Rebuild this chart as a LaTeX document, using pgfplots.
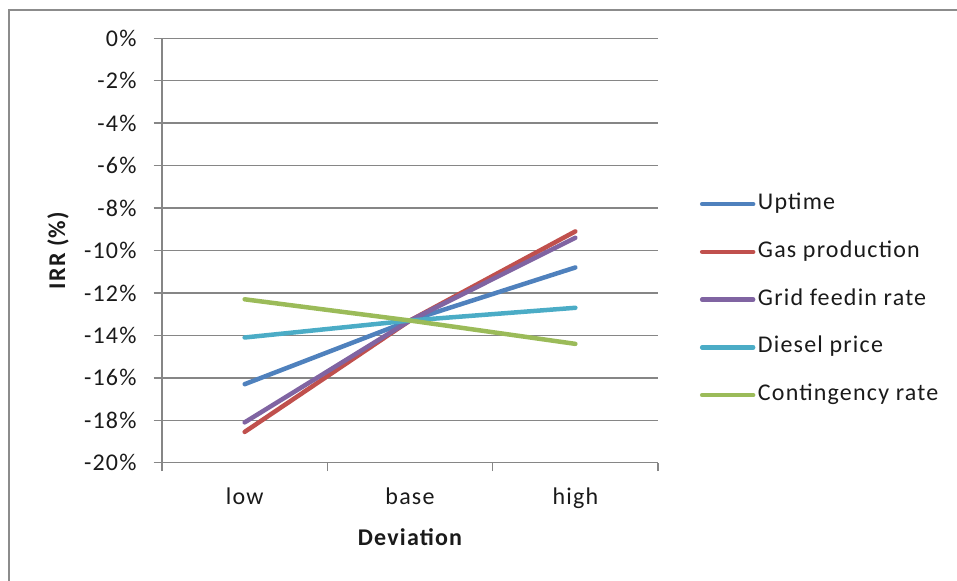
\documentclass[border=0pt]{standalone}
\usepackage{fontspec}
\setmainfont{Carlito}[LetterSpace=5]
\usepackage{pgfplots}
\pgfplotsset{compat=1.18}

\definecolor{sUptime}{HTML}{4F81BD}
\definecolor{sGas}{HTML}{C0504D}
\definecolor{sGrid}{HTML}{8064A2}
\definecolor{sDiesel}{HTML}{4BACC6}
\definecolor{sCont}{HTML}{9BBB59}
\definecolor{gridgray}{HTML}{868686}
\definecolor{framegray}{HTML}{8C8C8C}
\definecolor{labeltext}{HTML}{1A1A1A}

\begin{document}
\begin{tikzpicture}
\useasboundingbox (0pt,0pt) rectangle (478.5pt,-290.5pt);
% chart area border
\draw[framegray, line width=1pt] (482pt,-5pt) -- (4.5pt,-5pt) -- (4.5pt,-295pt);

\begin{axis}[
  at={(81pt,-231.35pt)}, anchor=south west,
  scale only axis, width=248pt, height=212.2pt,
  xmin=0, xmax=3, ymin=-20, ymax=0,
  axis x line*=bottom, axis y line*=left,
  axis line style={gridgray, line width=0.75pt, -},
  ytick={-20,-18,...,0},
  yticklabels={-20\%,-18\%,-16\%,-14\%,-12\%,-10\%,-8\%,-6\%,-4\%,-2\%,0\%},
  ymajorgrids, grid style={gridgray, line width=0.75pt},
  tick align=outside, major tick length=4.25pt,
  tick style={gridgray, line width=0.75pt},
  xtick={0,1,2,3}, xticklabels={},
  extra x ticks={0.5,1.5,2.5},
  extra x tick labels={low,base,high},
  extra x tick style={major tick length=0pt, grid=none},
  tick label style={font=\fontsize{12}{14}\selectfont, text=labeltext},
  yticklabel style={xshift=-5pt},
  xticklabel style={anchor=base, yshift=-21.15pt},
  label style={font=\fontsize{12}{14}\selectfont\bfseries, text=labeltext},
  xlabel={Deviation},
  xlabel style={at={(rel axis cs:0.5,-0.194)}, anchor=base},
  ylabel={IRR (\%)},
  ylabel style={at={(rel axis cs:-0.2097,0.5)}, anchor=center, rotate=0},
  legend cell align=left,
  legend image code/.code={\draw[#1, line cap=round] (0pt,0pt) -- (25.5pt,0pt);},
  legend style={at={(rel axis cs:1.0837,0.635)}, anchor=north west,
    draw=none, fill=none, inner sep=0pt, row sep=13.375pt, column sep=1.25pt,
    font=\fontsize{12}{14}\selectfont, text=labeltext,
    nodes={inner sep=0pt, text height=8pt, text depth=2.5pt}},
  every axis plot/.append style={line width=2.25pt, line cap=round},
]
\addplot[sUptime] coordinates {(0.5,-16.3) (1.5,-13.3) (2.5,-10.8)};
\addlegendentry{Uptime}
\addplot[sGas] coordinates {(0.5,-18.55) (1.5,-13.3) (2.5,-9.1)};
\addlegendentry{Gas production}
\addplot[sGrid] coordinates {(0.5,-18.1) (1.5,-13.3) (2.5,-9.4)};
\addlegendentry{Grid feedin rate}
\addplot[sDiesel] coordinates {(0.5,-14.1) (1.5,-13.3) (2.5,-12.7)};
\addlegendentry{Diesel price}
\addplot[sCont] coordinates {(0.5,-12.3) (1.5,-13.3) (2.5,-14.4)};
\addlegendentry{Contingency rate}
\end{axis}
\end{tikzpicture}
\end{document}
